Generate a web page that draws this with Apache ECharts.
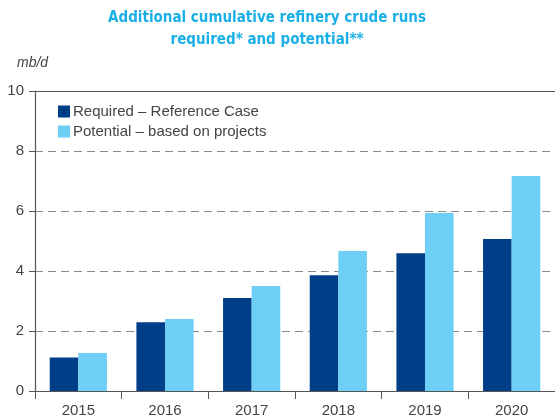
<!DOCTYPE html>
<html>
<head>
<meta charset="utf-8">
<script src="https://cdn.jsdelivr.net/npm/echarts@6/dist/echarts.min.js"></script>
<style>
html, body { margin: 0; padding: 0; background: #fff; }
#chart { width: 555px; height: 420px; }
</style>
</head>
<body>
<div id="chart"></div>
<script>
var years = ['2015', '2016', '2017', '2018', '2019', '2020'];
var required = [1.12, 2.29, 3.1, 3.86, 4.59, 5.07];
var potential = [1.27, 2.4, 3.5, 4.67, 5.93, 7.17];
var seriesNames = ['Required \u2013 Reference Case', 'Potential \u2013 based on projects'];

var myChart = echarts.init(document.getElementById('chart'));
var option = {
	color: ['#003f87', '#6dcff6'],
	title: {
		text: 'Additional cumulative refinery crude runs\nrequired* and potential**',
		left: 262,
		top: 2,
		textAlign: 'center',
		textStyle: {
			color: '#1aafe6',
			fontSize: 15,
			fontWeight: 'bold',
			fontFamily: '"DejaVu Sans Condensed", sans-serif',
			lineHeight: 22
		}
	},
	legend: {
		orient: 'vertical',
		left: 53,
		top: 99,
		itemWidth: 12,
		itemHeight: 12,
		itemGap: 5,
		icon: 'rect',
		textStyle: { fontSize: 15, color: '#444', fontFamily: '"Liberation Sans", Arial, sans-serif', padding: [0, 0, 0, -2] },
		data: seriesNames
	},
	grid: { left: 35, right: 0, top: 91, bottom: 29 },
	xAxis: [{
		type: 'category',
		data: years,
		axisLine: { lineStyle: { color: '#555', width: 1.2 } },
		axisTick: { show: true, length: 8, lineStyle: { color: '#555' } },
		axisLabel: { fontSize: 15, color: '#444', margin: 12, fontFamily: '"Liberation Sans", Arial, sans-serif' }
	}, {
		type: 'category',
		data: years,
		position: 'top',
		axisLine: { lineStyle: { color: '#555', width: 1.2 } },
		axisTick: { show: false },
		axisLabel: { show: false }
	}],
	yAxis: {
		type: 'value',
		min: 0,
		max: 10,
		interval: 2,
		name: 'mb/d',
		nameLocation: 'end',
		nameGap: 21,
		nameTextStyle: { fontStyle: 'italic', fontSize: 14, color: '#444', align: 'left', padding: [0, 0, 0, -18], fontFamily: '"Liberation Sans", Arial, sans-serif' },
		axisLine: { show: true, lineStyle: { color: '#555', width: 1.2 } },
		axisTick: { show: true, length: 6, lineStyle: { color: '#555' } },
		axisLabel: { fontSize: 15, color: '#444', margin: 11, fontFamily: '"Liberation Sans", Arial, sans-serif' },
		splitLine: { show: true, lineStyle: { color: '#8a8a8a', type: [8, 5], width: 1 } }
	},
	series: [{
		name: seriesNames[0],
		type: 'bar',
		data: required,
		barGap: 0,
		barCategoryGap: '34%'
	}, {
		name: seriesNames[1],
		type: 'bar',
		data: potential,
		barGap: 0,
		barCategoryGap: '34%'
	}]
};
myChart.setOption(option);
</script>
</body>
</html>
